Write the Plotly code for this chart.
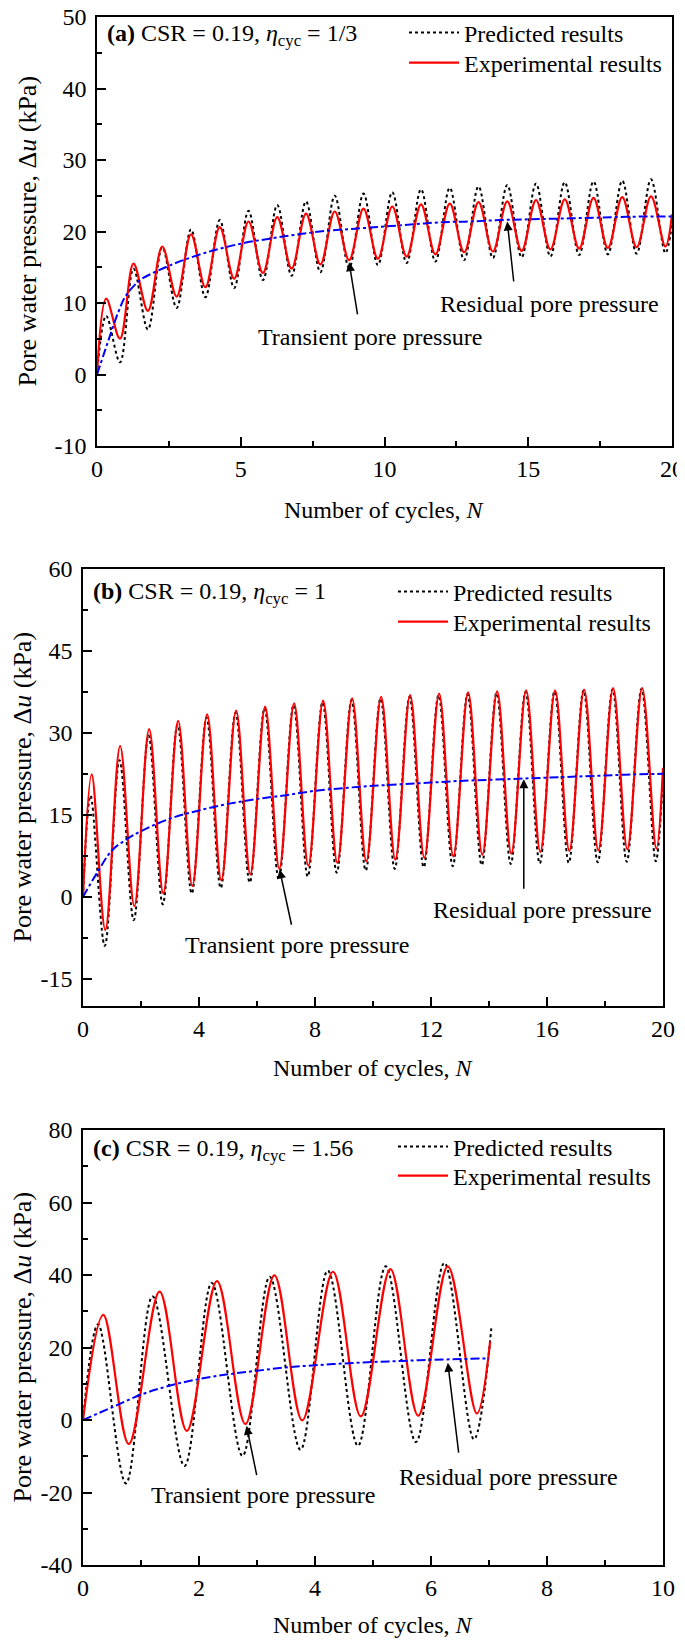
import plotly.graph_objects as go

FONT = "Liberation Serif"
W, H = 685, 1640
# the page keeps the browser's 8 px body margin, so the figure is made that much
# smaller and every pixel position below (measured on the full picture) is shifted
OFF = 8
W_FIG, H_FIG = W - OFF, H - OFF

# ---------------- panel (a): CSR = 0.19, eta_cyc = 1/3 ----------------
a_exp_n = [0, 0.32, 0.8, 1.27, 1.77, 2.27, 2.77, 3.27, 3.77, 4.27, 4.77, 5.27, 5.77,
           6.27, 6.77, 7.27, 7.77, 8.27, 8.77, 9.27, 9.77, 10.27, 10.77, 11.27, 11.77,
           12.27, 12.77, 13.27, 13.77, 14.27, 14.77, 15.27, 15.77, 16.27, 16.77,
           17.27, 17.77, 18.27, 18.77, 19.27, 19.77, 20]
a_exp_u = [0, 10.6, 5.0, 15.5, 8.9, 17.9, 10.9, 19.6, 12.2, 20.6, 13.4, 21.4, 14.2,
           22.0, 14.8, 22.5, 15.4, 22.8, 16.0, 23.2, 16.2, 23.5, 16.5, 23.8, 16.8,
           23.9, 17.1, 24.1, 17.2, 24.2, 17.3, 24.4, 17.5, 24.5, 17.6, 24.7, 17.7,
           24.8, 17.8, 24.9, 17.9, 22.4]
a_pre_n = a_exp_n
a_pre_u = [0, 8.2, 1.7, 14.8, 6.3, 17.8, 9.3, 20.3, 10.8, 21.6, 12.1, 22.9, 13.2,
           23.7, 13.8, 24.2, 14.3, 25.0, 14.9, 25.3, 15.3, 25.5, 15.6, 25.9, 15.8,
           26.1, 16.0, 26.3, 16.3, 26.5, 16.4, 26.7, 16.5, 26.9, 16.7, 27.0, 16.8,
           27.1, 16.9, 27.3, 17.0, 21.0]
a_res_n = [0, 0.25, 0.5, 0.75, 1, 1.5, 2, 2.5, 3, 4, 5, 6, 7, 8, 9, 10, 11, 12, 13,
           14, 15, 16, 17, 18, 19, 20]
a_res_u = [0, 3.0, 6.0, 8.8, 11.0, 13.2, 14.3, 15.2, 16.0, 17.3, 18.3, 19.0, 19.6,
           20.1, 20.4, 20.7, 21.0, 21.3, 21.4, 21.6, 21.7, 21.8, 21.9, 22.0, 22.1, 22.1]

# ---------------- panel (b): CSR = 0.19, eta_cyc = 1 ----------------
b_exp_n = [0, 0.3, 0.77, 1.28, 1.77, 2.28, 2.77, 3.28, 3.77, 4.28, 4.77, 5.28, 5.77,
           6.28, 6.77, 7.28, 7.77, 8.28, 8.77, 9.28, 9.77, 10.28, 10.77, 11.28, 11.77,
           12.28, 12.77, 13.28, 13.77, 14.28, 14.77, 15.28, 15.77, 16.28, 16.77,
           17.28, 17.77, 18.28, 18.77, 19.28, 19.77, 20]
b_exp_u = [0, 22.4, -6.1, 27.6, -1.7, 30.7, 0.6, 32.2, 2.0, 33.4, 3.0, 34.1, 4.1,
           34.8, 5.1, 35.4, 5.7, 35.9, 6.2, 36.3, 6.5, 36.6, 6.8, 36.9, 7.1, 37.2, 7.4,
           37.4, 7.7, 37.6, 7.9, 37.8, 8.2, 37.8, 8.4, 37.9, 8.5, 38.2, 8.7, 38.2, 8.8,
           23.6]
b_pre_n = [0, 0.26, 0.75, 1.26, 1.75, 2.26, 2.75, 3.26, 3.75, 4.26, 4.75, 5.26, 5.75,
           6.26, 6.75, 7.26, 7.75, 8.26, 8.75, 9.26, 9.75, 10.26, 10.75, 11.26, 11.75,
           12.26, 12.75, 13.26, 13.75, 14.26, 14.75, 15.26, 15.75, 16.26, 16.75,
           17.26, 17.75, 18.26, 18.75, 19.26, 19.75, 20]
b_pre_u = [0, 18.5, -9.0, 25.0, -4.3, 29.5, -1.4, 31.5, 0.6, 32.8, 1.6, 33.7, 2.6,
           34.5, 3.2, 35.1, 3.7, 35.6, 4.4, 36.0, 4.8, 36.3, 5.1, 36.6, 5.4, 36.9, 5.6,
           37.1, 5.8, 37.3, 6.0, 37.5, 6.1, 37.6, 6.2, 37.8, 6.3, 38.0, 6.4, 38.1, 6.5,
           22.0]
b_res_n = [0, 0.5, 1, 1.5, 2, 3, 4, 5, 6, 7, 8, 9, 10, 11, 12, 13, 14, 15, 16, 17,
           18, 19, 20]
b_res_u = [0, 4.5, 8.5, 10.5, 12.0, 14.3, 15.8, 17.0, 17.9, 18.6, 19.4, 19.9, 20.3,
           20.6, 20.9, 21.2, 21.4, 21.6, 21.8, 22.0, 22.2, 22.4, 22.5]

# ---------------- panel (c): CSR = 0.19, eta_cyc = 1.56 ----------------
c_exp_n = [0, 0.35, 0.79, 1.32, 1.79, 2.31, 2.8, 3.3, 3.78, 4.31, 4.79, 5.3, 5.78,
           6.29, 6.79, 7.02]
c_exp_u = [0, 29.0, -6.6, 35.4, -3.0, 38.3, -1.1, 39.9, -0.1, 40.9, 1.0, 41.6, 1.2,
           42.4, 1.8, 21.7]
c_pre_n = [0, 0.26, 0.74, 1.2, 1.75, 2.22, 2.75, 3.22, 3.75, 4.22, 4.74, 5.22, 5.74,
           6.23, 6.74, 7.04]
c_pre_u = [0, 26.4, -17.5, 34.1, -12.7, 37.8, -9.9, 39.5, -8.2, 41.2, -7.1, 42.4,
           -6.1, 43.3, -5.3, 25.3]
c_res_n = [0, 0.5, 1, 1.5, 2, 2.5, 3, 3.5, 4, 4.5, 5, 5.5, 6, 6.5, 7]
c_res_u = [0, 3.5, 7.0, 9.5, 11.3, 12.6, 13.6, 14.5, 15.1, 15.6, 16.0, 16.3, 16.6,
           16.8, 17.0]

# tick labels
a_yticks = [-10, 0, 10, 20, 30, 40, 50]
b_yticks = [-15, 0, 15, 30, 45, 60]
c_yticks = [-40, -20, 0, 20, 40, 60, 80]
a_xticks = [0, 5, 10, 15, 20]
b_xticks = [0, 4, 8, 12, 16, 20]
c_xticks = [0, 2, 4, 6, 8, 10]

labels = ["<b>(a)</b> CSR = 0.19, <i>η</i><sub>cyc</sub> = 1/3",
          "<b>(b)</b> CSR = 0.19, <i>η</i><sub>cyc</sub> = 1",
          "<b>(c)</b> CSR = 0.19, <i>η</i><sub>cyc</sub> = 1.56"]


def px(x):
    return (x - OFF) / W_FIG


def py(y):
    return 1 - (y - OFF) / H_FIG


# panel boxes in pixels of the final picture: left, right, top, bottom
boxes = [(97, 672, 17, 446), (83, 663, 569, 1006), (83, 663, 1130, 1565)]
panels = [
    dict(exp=(a_exp_n, a_exp_u), pre=(a_pre_n, a_pre_u), res=(a_res_n, a_res_u),
         xr=[0, 20], yr=[-10, 50], xt=a_xticks, yt=a_yticks, xm=2.5, ym=5,
         title_y=510, label_y=35, leg_x=464, leg_rows=(33, 63), ytitle_x=27,
         tr=((8.77, 15.7), (9.07, 8.2), (9.48, 5.3)),
         rs=((14.27, 21.4), (14.5, 12.8), (15.73, 9.8))),
    dict(exp=(b_exp_n, b_exp_u), pre=(b_pre_n, b_pre_u), res=(b_res_n, b_res_u),
         xr=[0, 20], yr=[-20, 60], xt=b_xticks, yt=b_yticks, xm=2, ym=7.5,
         title_y=1068, label_y=593, leg_x=453, leg_rows=(592, 622), ytitle_x=22,
         tr=((6.78, 5.0), (7.2, -5.4), (7.38, -8.9)),
         rs=((15.2, 21.5), (15.2, 1.2), (15.83, -2.5))),
    dict(exp=(c_exp_n, c_exp_u), pre=(c_pre_n, c_pre_u), res=(c_res_n, c_res_u),
         xr=[0, 10], yr=[-40, 80], xt=c_xticks, yt=c_yticks, xm=1, ym=10,
         title_y=1625, label_y=1150, leg_x=453, leg_rows=(1147, 1176), ytitle_x=22,
         tr=((2.82, -1.6), (3.0, -15.6), (3.1, -20.8)),
         rs=((6.29, 15.8), (6.48, -9.4), (7.34, -15.6))),
]

fig = go.Figure()
annotations = []
axis_common = dict(showline=True, linecolor="black", linewidth=1.5, mirror=True,
                   ticks="inside", ticklen=9, tickwidth=1.5, tickcolor="black",
                   showgrid=False, zeroline=False, automargin=False,
                   ticklabeloverflow="allow",
                   tickfont=dict(family=FONT, size=24, color="black"))

for i, (p, box) in enumerate(zip(panels, boxes)):
    sfx = "" if i == 0 else str(i + 1)
    xa, ya = "x" + sfx, "y" + sfx
    l, r, t, b = box
    # one single-item legend per entry so each row sits where the reference has it
    leg_pre = "legend" if i == 0 else "legend" + str(2 * i + 1)
    leg_exp = "legend" + str(2 * i + 2)

    fig.add_trace(go.Scatter(x=p["pre"][0], y=p["pre"][1], mode="lines",
                             name="Predicted results", legend=leg_pre,
                             line=dict(color="black", width=2, dash="dot",
                                       shape="spline", smoothing=1),
                             xaxis=xa, yaxis=ya))
    fig.add_trace(go.Scatter(x=p["exp"][0], y=p["exp"][1], mode="lines",
                             name="Experimental results", legend=leg_exp,
                             line=dict(color="#ff0000", width=2.2, shape="spline",
                                       smoothing=1),
                             xaxis=xa, yaxis=ya))
    fig.add_trace(go.Scatter(x=p["res"][0], y=p["res"][1], mode="lines",
                             showlegend=False,
                             line=dict(color="#0000ff", width=2, dash="dashdot",
                                       shape="spline", smoothing=1),
                             xaxis=xa, yaxis=ya))

    leg_style = dict(x=px(p["leg_x"] - 60), xanchor="left", yanchor="middle",
                     bgcolor="rgba(0,0,0,0)", borderwidth=0, itemwidth=50,
                     font=dict(family=FONT, size=24, color="black"))
    fig.update_layout({
        "xaxis" + sfx: dict(axis_common, domain=[px(l), px(r)], anchor=ya,
                            range=p["xr"], tickmode="array", tickvals=p["xt"],
                            ticktext=[str(v) for v in p["xt"]],
                            minor=dict(ticks="inside", ticklen=5, tickwidth=1.5,
                                       tickcolor="black", tickmode="linear",
                                       tick0=0, dtick=p["xm"])),
        "yaxis" + sfx: dict(axis_common, domain=[py(b), py(t)], anchor=xa,
                            range=p["yr"], tickmode="array", tickvals=p["yt"],
                            ticktext=[str(v) for v in p["yt"]],
                            ticklabelstandoff=4,
                            minor=dict(ticks="inside", ticklen=5, tickwidth=1.5,
                                       tickcolor="black", tickmode="linear",
                                       tick0=0, dtick=p["ym"])),
        leg_pre: dict(leg_style, y=py(p["leg_rows"][0])),
        leg_exp: dict(leg_style, y=py(p["leg_rows"][1])),
    })

    # panel label
    annotations.append(dict(text=labels[i], xref="paper", yref="paper",
                            x=px(l + 8), y=py(p["label_y"]), xanchor="left",
                            yanchor="middle", showarrow=False))
    # axis titles
    annotations.append(dict(text="Number of cycles, <i>N</i>", xref="paper",
                            yref="paper", x=px((l + r) / 2), y=py(p["title_y"]),
                            xanchor="center", yanchor="middle", showarrow=False))
    annotations.append(dict(text="Pore water pressure, Δ<i>u</i> (kPa)",
                            xref="paper", yref="paper", x=px(p["ytitle_x"]),
                            y=py((t + b) / 2), textangle=-90, xanchor="center",
                            yanchor="middle", showarrow=False,
                            font=dict(family=FONT, size=26, color="black")))
    # arrows and callouts
    for key, txt in (("tr", "Transient pore pressure"), ("rs", "Residual pore pressure")):
        head, tail, pos = p[key]
        annotations.append(dict(x=head[0], y=head[1], ax=tail[0], ay=tail[1],
                                xref=xa, yref=ya, axref=xa, ayref=ya, text="",
                                showarrow=True, arrowhead=2, arrowsize=1.2,
                                arrowwidth=1.5, arrowcolor="black"))
        annotations.append(dict(x=pos[0], y=pos[1], xref=xa, yref=ya, text=txt,
                                showarrow=False, xanchor="center", yanchor="middle"))

fig.update_layout(width=W_FIG, height=H_FIG, margin=dict(l=0, r=0, t=0, b=0),
                  paper_bgcolor="white", plot_bgcolor="white",
                  font=dict(family=FONT, size=24, color="black"),
                  annotations=annotations)

fig.write_html("out.html")
